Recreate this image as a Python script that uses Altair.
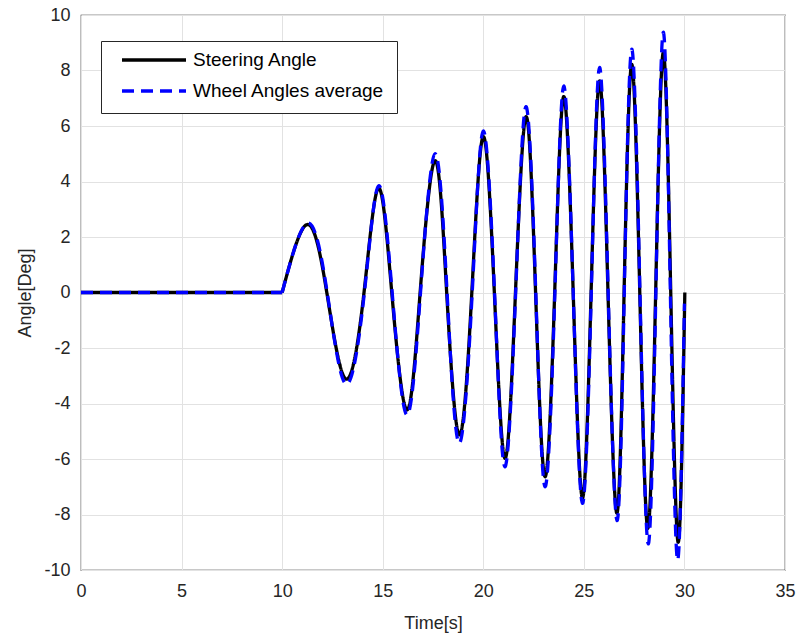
import altair as alt
import pandas as pd

# ---- data ----
# flat part before the manoeuvre (both signals)
flat_t = [0, 10]
flat_v = [0, 0]

# oscillation: zero crossings and extrema
steer_t = [10, 11.25, 12.22, 13.18, 14.07, 14.79, 15.45, 16.2, 16.86, 17.6, 18.18,
           18.81, 19.43, 20.0, 20.55, 21.08, 21.6, 22.13, 22.6, 23.07, 23.55, 24.0, 24.47,
           24.93, 25.36, 25.78, 26.2, 26.64, 27.0, 27.38, 27.78, 28.18, 28.57, 28.95, 29.32,
           29.69, 30.02]
steer_v = [0, 2.45, 0, -3.12, 0, 3.76, 0, -4.23, 0, 4.75, 0,
           -5.13, 0, 5.62, 0, -5.98, 0, 6.34, 0, -6.64, 0, 7.06, 0,
           -7.4, 0, 7.62, 0, -7.95, 0, 8.22, 0, -8.5, 0, 8.65, 0,
           -9.0, 0]

wheel_t = [10, 11.27, 12.24, 13.18, 14.09, 14.8, 15.47, 16.2, 16.88, 17.6, 18.2,
           18.8, 19.45, 20.0, 20.56, 21.07, 21.61, 22.12, 22.61, 23.07, 23.56, 24.0, 24.47,
           24.93, 25.37, 25.78, 26.21, 26.65, 27.01, 27.38, 27.79, 28.2, 28.58, 28.95, 29.3,
           29.66, 30.0]
wheel_v = [0, 2.5, 0, -3.3, 0, 3.85, 0, -4.41, 0, 5.0, 0,
           -5.43, 0, 5.82, 0, -6.28, 0, 6.7, 0, -7.0, 0, 7.44, 0,
           -7.6, 0, 8.11, 0, -8.22, 0, 8.77, 0, -9.06, 0, 9.38, 0,
           -9.64, -0.4]

series_names = ["Steering Angle", "Wheel Angles average"]
x_ticks = [0, 5, 10, 15, 20, 25, 30, 35]
y_ticks = [-10, -8, -6, -4, -2, 0, 2, 4, 6, 8, 10]


def part(ts, vs, name, seg):
    return pd.DataFrame({"t": ts, "v": vs, "series": name, "seg": seg, "k": range(len(ts))})


df = pd.concat([
    part(flat_t, flat_v, series_names[0], "a"),
    part(steer_t, steer_v, series_names[0], "b"),
    part(flat_t, flat_v, series_names[1], "a"),
    part(wheel_t, wheel_v, series_names[1], "b"),
], ignore_index=True)

FONT = "Liberation Sans"
leg = alt.Legend(orient="none", legendX=20, legendY=26)

chart = alt.Chart(df).mark_line(strokeWidth=3.3, interpolate="natural").encode(
    x=alt.X("t:Q",
            scale=alt.Scale(domain=[0, 35], nice=False),
            axis=alt.Axis(values=x_ticks, title="Time[s]", grid=True, ticks=False,
                          domain=False, labelPadding=12, titlePadding=14,
                          labelFlush=False)),
    y=alt.Y("v:Q",
            scale=alt.Scale(domain=[-10, 10], nice=False),
            axis=alt.Axis(values=y_ticks, title="Angle[Deg]", grid=True, ticks=False,
                          domain=False, labelPadding=11, titlePadding=9,
                          labelExpr="'' + datum.value")),
    color=alt.Color("series:N",
                    scale=alt.Scale(domain=series_names, range=["#000000", "#0000ff"]),
                    legend=leg, title=None),
    strokeDash=alt.StrokeDash("series:N",
                              scale=alt.Scale(domain=series_names, range=[[1, 0], [12, 7]]),
                              legend=leg, title=None),
    detail="seg:N",
    order=alt.Order("k:Q"),
).properties(
    width=704,
    height=555,
    background="#ffffff",
    autosize=alt.AutoSizeParams(type="none"),
    padding={"left": 81, "top": 15, "right": 13, "bottom": 67},
).configure_view(
    stroke="#262626", strokeWidth=1.2
).configure_axis(
    labelFont=FONT, labelFontSize=18, labelColor="#262626",
    titleFont=FONT, titleFontSize=18, titleColor="#262626", titleFontWeight="normal",
    gridColor="#e2e2e2", gridWidth=1,
).configure_legend(
    labelFont=FONT, labelFontSize=19, labelColor="#000000",
    symbolType="stroke", symbolSize=4096, symbolStrokeWidth=3.5,
    strokeColor="#262626", fillColor="#ffffff", padding=12,
    symbolOffset=7, clipHeight=14, rowPadding=12, labelOffset=5, labelLimit=400,
)

chart.save("out.html", embed_options={"renderer": "svg", "actions": False})
